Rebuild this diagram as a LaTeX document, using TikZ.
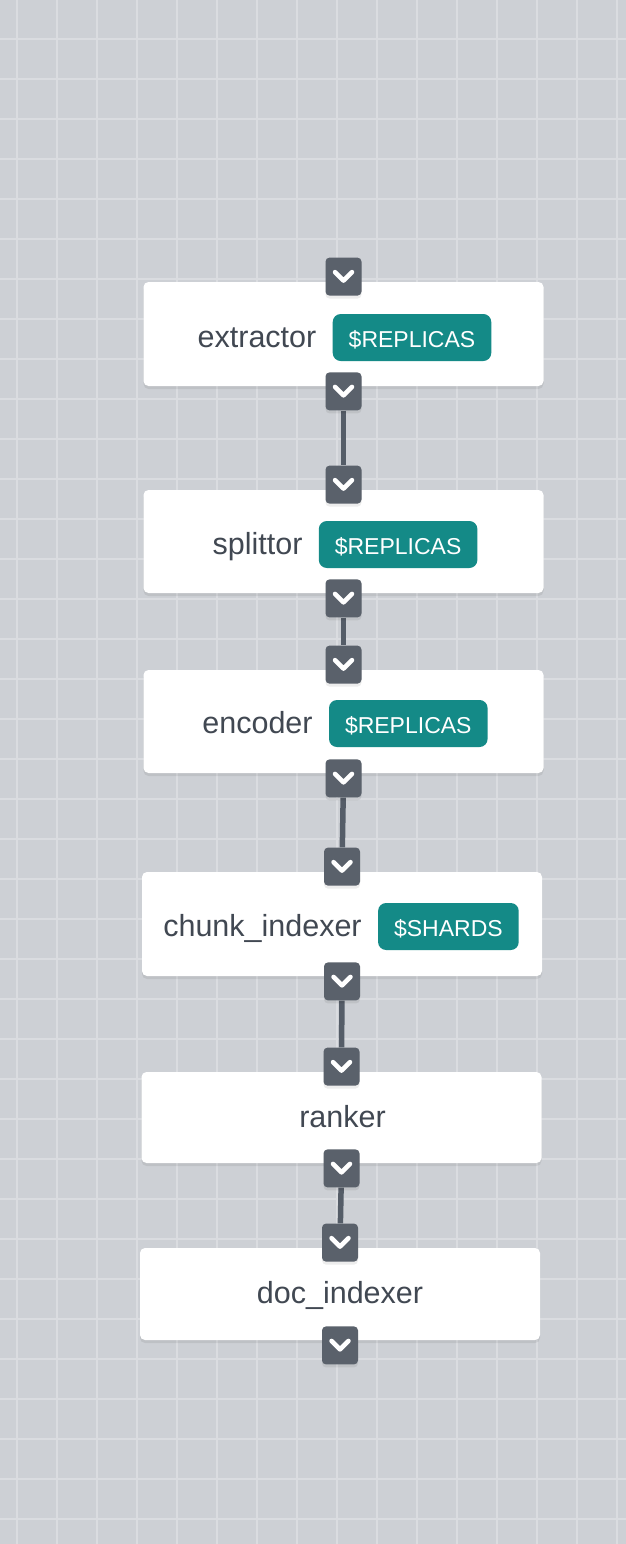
\documentclass[tikz,border=0pt]{standalone}
\usepackage{fontspec}
\setmainfont{Liberation Sans}
\usetikzlibrary{positioning}

\definecolor{canvasbg}{RGB}{205,208,213}
\definecolor{gridcol}{RGB}{218,220,224}
\definecolor{podtext}{RGB}{65,72,82}
\definecolor{badgeteal}{RGB}{20,138,135}
\definecolor{portgray}{RGB}{90,97,107}
\definecolor{wiregray}{RGB}{85,93,104}

\pgfdeclarelayer{grid}
\pgfdeclarelayer{wires}
\pgfsetlayers{grid,wires,main}

\tikzset{
    softshadow/.style={preaction={fill=black, opacity=0.07, transform canvas={yshift=-3pt}}},
    pod/.style={fill=white, rounded corners=5pt, minimum width=400pt, minimum height=104pt, softshadow},
    podname/.style={inner sep=0pt, text=podtext, font=\fontsize{30.5}{36}\selectfont, anchor=base},
    badge/.style={fill=badgeteal, text=white, rounded corners=8pt, inner xsep=16pt, inner ysep=0pt,
        minimum height=47pt, text height=19pt, text depth=0pt, font=\fontsize{23}{28}\selectfont},
    port/.style={fill=portgray, rounded corners=4pt, minimum width=36pt, minimum height=38pt, inner sep=0pt, softshadow},
    wire/.style={draw=wiregray, line width=5.5pt},
    chev/.style={draw=white, line width=4.5pt, line cap=round, line join=round},
    gridline/.style={draw=gridcol, line width=1.6pt}
}

\begin{document}
\begin{tikzpicture}[x=1pt, y=-1pt]
    \useasboundingbox (0,0) rectangle (626,1544);

    % Canvas with grid
    \begin{pgfonlayer}{grid}
        \fill[canvasbg] (0,0) rectangle (626,1544);
        \foreach \gx in {17,57,...,617} \draw[gridline] (\gx,0) -- (\gx,1544);
        \foreach \gy in {39,79,...,1519} \draw[gridline] (0,\gy) -- (626,\gy);
    \end{pgfonlayer}

    % extractor
    \node[pod] (extractor) at (343.5,334) {};
    \node[podname] (extractor-name) at (257,347) {extractor};
    \node[badge, base right=16pt of extractor-name] (extractor-badge) {\$REPLICAS};
    \node[port, above=-14pt of extractor] (extractor-in) {};
    \node[port, below=-14pt of extractor] (extractor-out) {};

    % splittor
    \node[pod, minimum height=103pt] (splittor) at (343.5,541.5) {};
    \node[podname] (splittor-name) at (257.5,554) {splittor};
    \node[badge, base right=16pt of splittor-name] (splittor-badge) {\$REPLICAS};
    \node[port, above=-14pt of splittor] (splittor-in) {};
    \node[port, below=-14pt of splittor] (splittor-out) {};

    % encoder
    \node[pod, minimum height=103pt] (encoder) at (343.5,721.5) {};
    \node[podname] (encoder-name) at (257.5,733) {encoder};
    \node[badge, base right=16pt of encoder-name] (encoder-badge) {\$REPLICAS};
    \node[port, above=-14pt of encoder] (encoder-in) {};
    \node[port, below=-14pt of encoder] (encoder-out) {};

    % chunk_indexer
    \node[pod] (chunkidx) at (342,924) {};
    \node[podname] (chunkidx-name) at (262.5,936) {chunk\_indexer};
    \node[badge, base right=16pt of chunkidx-name] (chunkidx-badge) {\$SHARDS};
    \node[port, above=-14pt of chunkidx] (chunkidx-in) {};
    \node[port, below=-14pt of chunkidx] (chunkidx-out) {};

    % ranker
    \node[pod, minimum height=91pt] (ranker) at (341.5,1117.5) {};
    \node[podname] (ranker-name) at (342.5,1127) {ranker};
    \node[port, above=-14pt of ranker] (ranker-in) {};
    \node[port, below=-14pt of ranker] (ranker-out) {};

    % doc_indexer
    \node[pod, minimum height=92pt] (docidx) at (340,1294) {};
    \node[podname] (docidx-name) at (340,1303) {doc\_indexer};
    \node[port, above=-14pt of docidx] (docidx-in) {};
    \node[port, below=-14pt of docidx] (docidx-out) {};

    % Connections between pods
    \begin{pgfonlayer}{wires}
        \draw[wire] (extractor-out) -- (splittor-in);
        \draw[wire] (splittor-out) -- (encoder-in);
        \draw[wire] (encoder-out) -- (chunkidx-in);
        \draw[wire] (chunkidx-out) -- (ranker-in);
        \draw[wire] (ranker-out) -- (docidx-in);
    \end{pgfonlayer}

    % Chevrons on the ports
    \foreach \p in {extractor-in, extractor-out, splittor-in, splittor-out, encoder-in, encoder-out,
                    chunkidx-in, chunkidx-out, ranker-in, ranker-out, docidx-in, docidx-out}
        \draw[chev] ([xshift=-8.5pt,yshift=4.5pt]\p.center) -- ([yshift=-4pt]\p.center) -- ([xshift=8.5pt,yshift=4.5pt]\p.center);
\end{tikzpicture}
\end{document}
